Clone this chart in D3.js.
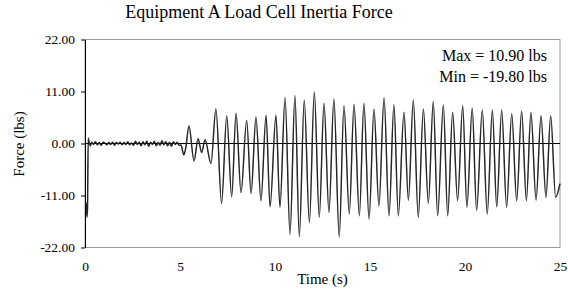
<!DOCTYPE html>
<html>
<head>
<meta charset="utf-8">
<script src="https://cdn.jsdelivr.net/npm/d3@7"></script>
<style>
  body { margin: 0; background: #fff; }
  svg text { font-family: "Liberation Serif", "Times New Roman", serif !important; fill: #000; }
</style>
</head>
<body>
<svg id="chart" width="568" height="292"></svg>
<script>
// start-up transient (s, lbs)
const startTime  = [0.05, 0.10, 0.13, 0.17, 0.22, 0.28];
const startForce = [-12.5, -15.6, -14.0, 1.2, 0.3, -0.5];

// low-level noise before the shaking starts, one reading per 0.1 s from 0.35 s
const noiseStart = 0.35;
const noiseForce = [
   0.3, -0.2, 0.4, -0.3, 0.2, -0.4, 0.3, 0.1, -0.3, 0.2,
  -0.2, 0.3, -0.4, 0.2, -0.1, 0.3, -0.3, 0.2, -0.2, 0.4,
  -0.3, 0.1, -0.4, 0.5, -0.2, 0.3, -0.5, 0.4, -0.3, 0.5,
  -0.6, 0.3, -0.2, 0.5, -0.5, 0.2, -0.4, 0.6, -0.3, 0.4,
  -0.5, 0.3, -0.6, 0.4, -0.2, 0.3, -0.4
];

// peaks and troughs of the oscillation
const extremaTime = [
  5.05, 5.20, 5.30, 5.47, 5.74, 5.95, 6.14, 6.32, 6.63,
  6.89, 7.19, 7.46, 7.72, 7.95, 8.21, 8.51, 8.74, 9.00, 9.26,
  9.53, 9.74, 10.05, 10.26, 10.53, 10.79, 11.05, 11.28, 11.54, 11.81,
  12.07, 12.33, 12.58, 12.84, 13.10, 13.38, 13.63, 13.91, 14.16, 14.44,
  14.68, 14.95, 15.21, 15.47, 15.74, 16.00, 16.26, 16.49, 16.79, 17.02,
  17.28, 17.54, 17.81, 18.07, 18.33, 18.56, 18.86, 19.09, 19.35, 19.61,
  19.88, 20.10, 20.38, 20.61, 20.91, 21.17, 21.44, 21.67, 21.93, 22.19,
  22.46, 22.72, 22.98, 23.23, 23.47, 23.74, 24.00, 24.26, 24.51, 24.77, 25.00
];
const extremaForce = [
  -0.3, -2.4, -1.0, 3.7, -3.7, 1.0, -1.9, 0.8, -4.2,
  7.3, -12.7, 5.9, -11.3, 6.4, -10.4, 4.9, -10.6, 5.6, -12.1,
  6.0, -13.4, 6.0, -13.5, 9.7, -19.2, 10.1, -19.7, 9.2, -16.7,
  10.9, -15.6, 8.5, -14.6, 9.4, -19.8, 8.0, -14.9, 8.3, -15.3,
  8.5, -16.0, 7.3, -13.2, 9.7, -15.3, 8.2, -15.3, 6.6, -12.0,
  9.2, -15.6, 7.3, -12.7, 8.9, -15.3, 8.2, -15.3, 6.6, -12.1,
  8.0, -13.5, 7.5, -14.2, 7.1, -14.9, 7.1, -13.4, 7.1, -13.5,
  6.3, -12.1, 6.9, -12.1, 6.6, -12.0, 5.9, -11.4, 5.9, -11.4, -8.5
];

const yTicks = [-22, -11, 0, 11, 22];
const xTicks = [0, 5, 10, 15, 20, 25];

const svg = d3.select("#chart");
const margin = { top: 39.5, right: 8, bottom: 44.5, left: 85 };
const width = 568, height = 292;

const data = [];
startTime.forEach((t, i) => data.push({ t, f: startForce[i] }));
noiseForce.forEach((f, i) => data.push({ t: noiseStart + i * 0.1, f }));
extremaTime.forEach((t, i) => data.push({ t, f: extremaForce[i] }));

const x = d3.scaleLinear().domain([0, 25]).range([margin.left, width - margin.right]);
const y = d3.scaleLinear().domain([-22, 22]).range([height - margin.bottom, margin.top]);

// plot frame (grey top/right/bottom)
svg.append("rect")
  .attr("x", x(0)).attr("y", y(22))
  .attr("width", x(25) - x(0)).attr("height", y(-22) - y(22))
  .attr("fill", "none").attr("stroke", "#9a9a9a");

// Title
svg.append("text")
  .attr("x", 259).attr("y", 18)
  .attr("text-anchor", "middle")
  .style("font-size", "18px")
  .text("Equipment A Load Cell Inertia Force");

// X axis labels only
const xAxis = svg.append("g")
  .attr("transform", `translate(0,${y(-22)})`)
  .call(d3.axisBottom(x).tickValues(xTicks).tickSize(0).tickPadding(14));
xAxis.select(".domain").remove();
xAxis.selectAll("text").style("font-size", "13.5px");

// Y axis
const yAxis = svg.append("g")
  .attr("transform", `translate(${x(0)},0)`)
  .call(d3.axisLeft(y).tickValues(yTicks).tickSize(4).tickSizeOuter(0).tickPadding(6)
    .tickFormat(d => d.toFixed(2)));
yAxis.selectAll("text").style("font-size", "13.5px");
yAxis.selectAll("line, path").attr("stroke", "#000");

// zero line
svg.append("line")
  .attr("x1", x(0)).attr("x2", x(25))
  .attr("y1", y(0)).attr("y2", y(0))
  .attr("stroke", "#000");

// Signal
const line = d3.line()
  .x(d => x(d.t))
  .y(d => y(d.f))
  .curve(d3.curveMonotoneX);

svg.append("path")
  .datum(data)
  .attr("fill", "none")
  .attr("stroke", "#000")
  .attr("stroke-width", 1.4)
  .attr("d", line);
svg.append("path")
  .datum(data)
  .attr("fill", "none")
  .attr("stroke", "#fff")
  .attr("stroke-opacity", 0.5)
  .attr("stroke-width", 0.35)
  .attr("d", line);

// Max / Min note
svg.append("text")
  .attr("x", 547).attr("y", 61)
  .attr("text-anchor", "end")
  .style("font-size", "16px")
  .text("Max = 10.90 lbs");
svg.append("text")
  .attr("x", 547).attr("y", 82)
  .attr("text-anchor", "end")
  .style("font-size", "16px")
  .text("Min = -19.80 lbs");

// Axis titles
svg.append("text")
  .attr("x", (x(0) + x(25)) / 2).attr("y", 284)
  .attr("text-anchor", "middle")
  .style("font-size", "15px")
  .text("Time (s)");

svg.append("text")
  .attr("transform", "translate(24,144) rotate(-90)")
  .attr("text-anchor", "middle")
  .style("font-size", "15px")
  .text("Force (lbs)");
</script>
</body>
</html>
